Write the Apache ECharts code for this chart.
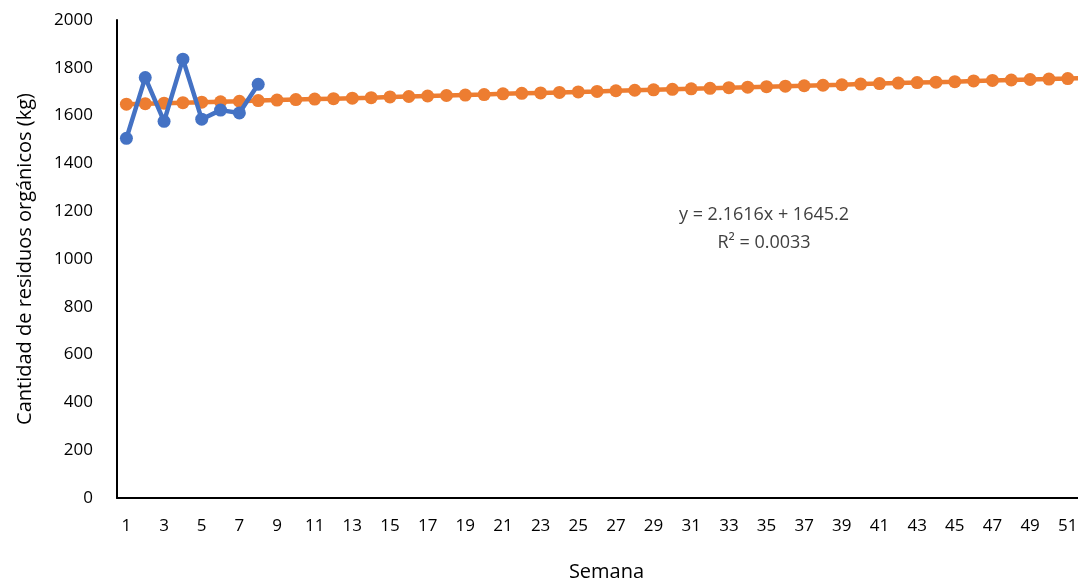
<!DOCTYPE html>
<html>
<head>
<meta charset="utf-8">
<script src="https://cdn.jsdelivr.net/npm/echarts@6/dist/echarts.min.js"></script>
<style>html,body{margin:0;padding:0;background:#fff}#c{width:1078px;height:581px}</style>
</head>
<body>
<div id="c"></div>
<script>
const weeks = Array.from({length: 52}, (_, i) => String(i + 1));
const actual = [1505, 1759, 1576, 1836, 1585, 1623, 1611, 1731];
const trend = [1648,1650,1652,1654,1656,1658,1660,1663,1665,1667,1669,1671,1673,1675,1678,1680,1682,1684,1686,1688,1691,1693,1695,1697,1699,1701,1704,1706,1708,1710,1712,1714,1717,1719,1721,1723,1725,1727,1729,1732,1734,1736,1738,1740,1742,1745,1747,1749,1751,1753,1755,1758];
const yTitle = 'Cantidad de residuos orgánicos (kg)';
const xTitle = 'Semana';
const eqText = 'y = 2.1616x + 1645.2';
const r2Text = 'R² = 0.0033';

const font = 'Open Sans';
const chart = echarts.init(document.getElementById('c'), null, {renderer: 'canvas'});
chart.setOption({
  animation: false,
  backgroundColor: '#fff',
  grid: {left: 117, top: 20, width: 979, height: 478, containLabel: false, outerBoundsMode: 'none'},
  xAxis: {
    type: 'category', data: weeks, boundaryGap: true,
    name: xTitle, nameLocation: 'middle', nameGap: 64,
    nameTextStyle: {fontFamily: font, fontSize: 20, color: '#000'},
    axisLine: {lineStyle: {color: '#000', width: 2}},
    axisTick: {show: false},
    axisLabel: {interval: 1, fontFamily: font, fontSize: 17, color: '#000', margin: 20}
  },
  yAxis: {
    type: 'value', min: 0, max: 2000, interval: 200,
    name: yTitle, nameLocation: 'middle', nameGap: 82, nameRotate: 90,
    nameTextStyle: {fontFamily: font, fontSize: 20, color: '#000'},
    axisLine: {show: true, lineStyle: {color: '#000', width: 2}},
    axisTick: {show: false},
    splitLine: {show: false},
    axisLabel: {fontFamily: font, fontSize: 17, color: '#000', margin: 24, formatter: v => String(v)}
  },
  series: [
    {type: 'line', data: trend, symbol: 'circle', symbolSize: 13, showAllSymbol: true,
     lineStyle: {color: '#ED7D31', width: 4.5}, itemStyle: {color: '#ED7D31'}, z: 2},
    {type: 'line', data: actual, symbol: 'circle', symbolSize: 13, showAllSymbol: true,
     lineStyle: {color: '#4472C4', width: 4.5}, itemStyle: {color: '#4472C4'}, z: 3}
  ],
  graphic: [
    {type: 'text', x: 764, y: 206, style: {text: eqText, font: '18px "Open Sans"', fill: '#404040', textAlign: 'center'}},
    {type: 'text', x: 764, y: 234, style: {text: r2Text, font: '18px "Open Sans"', fill: '#404040', textAlign: 'center'}}
  ]
});
</script>
</body>
</html>
